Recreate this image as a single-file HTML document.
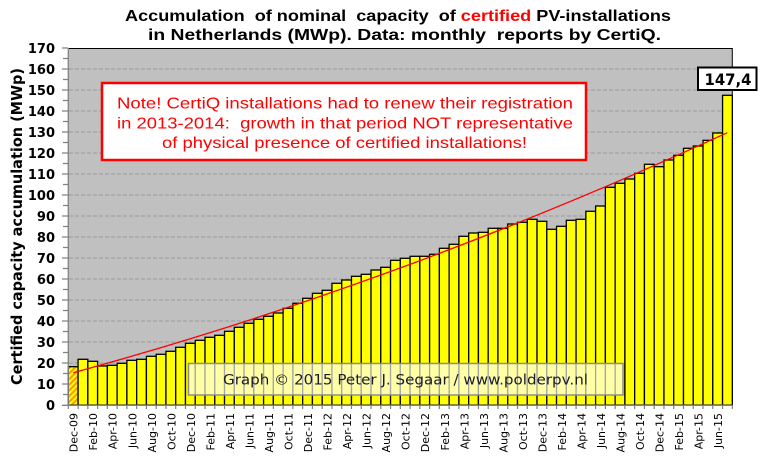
<!DOCTYPE html>
<html>
<head>
<meta charset="utf-8">
<style>
  html, body { margin: 0; padding: 0; background: #ffffff; }
  svg { display: block; }
</style>
</head>
<body>
<svg width="771" height="458" viewBox="0 0 771 458" xmlns="http://www.w3.org/2000/svg">
  <defs>
    <pattern id="hatch" width="4" height="4" patternUnits="userSpaceOnUse" patternTransform="rotate(45)">
      <rect width="4" height="4" fill="#FFFF00"/>
      <rect width="2" height="4" fill="#FF9900"/>
    </pattern>
  </defs>
  <rect width="771" height="458" fill="#ffffff"/>

  <!-- Title -->
  <g font-family="'Liberation Sans', 'DejaVu Sans', sans-serif" font-weight="bold" font-size="16" fill="#000">
    <text x="125" y="21" textLength="546" lengthAdjust="spacingAndGlyphs">Accumulation&#160; of nominal&#160; capacity&#160; of <tspan fill="#FF0000">certified</tspan> PV-installations</text>
    <text x="148" y="40" textLength="513" lengthAdjust="spacingAndGlyphs">in Netherlands (MWp). Data: monthly&#160; reports by CertiQ.</text>
  </g>

  <!-- Plot area -->
  <rect x="68.3" y="48" width="664" height="357" fill="#C0C0C0"/>

  <!-- Gridlines -->
  <g stroke="#9A9A9A" stroke-width="1" stroke-dasharray="4,2">
    <line x1="69" y1="384" x2="732" y2="384"/>
    <line x1="69" y1="363" x2="732" y2="363"/>
    <line x1="69" y1="342" x2="732" y2="342"/>
    <line x1="69" y1="321" x2="732" y2="321"/>
    <line x1="69" y1="300" x2="732" y2="300"/>
    <line x1="69" y1="279" x2="732" y2="279"/>
    <line x1="69" y1="258" x2="732" y2="258"/>
    <line x1="69" y1="237" x2="732" y2="237"/>
    <line x1="69" y1="216" x2="732" y2="216"/>
    <line x1="69" y1="195" x2="732" y2="195"/>
    <line x1="69" y1="174" x2="732" y2="174"/>
    <line x1="69" y1="153" x2="732" y2="153"/>
    <line x1="69" y1="132" x2="732" y2="132"/>
    <line x1="69" y1="111" x2="732" y2="111"/>
    <line x1="69" y1="90" x2="732" y2="90"/>
    <line x1="69" y1="69" x2="732" y2="69"/>
  </g>

  <!-- Plot border top/right -->
  <path d="M68.3,48.5 H732.3 V405" fill="none" stroke="#000" stroke-width="1"/>

  <!-- Bars -->
  <g stroke="#000" stroke-width="1.3">
    <rect x="68.30" y="366.7" width="9.77" height="38.3" fill="url(#hatch)"/>
  </g>
  <g fill="#FFFF00" stroke="#000" stroke-width="1.3">
    <rect x="78.07" y="359.3" width="9.77" height="45.7"/>
    <rect x="87.83" y="361.3" width="9.77" height="43.7"/>
    <rect x="97.60" y="366.0" width="9.77" height="39.0"/>
    <rect x="107.36" y="365.3" width="9.77" height="39.7"/>
    <rect x="117.13" y="363.3" width="9.77" height="41.7"/>
    <rect x="126.89" y="360.3" width="9.77" height="44.7"/>
    <rect x="136.66" y="359.3" width="9.77" height="45.7"/>
    <rect x="146.42" y="356.3" width="9.77" height="48.7"/>
    <rect x="156.19" y="354.3" width="9.77" height="50.7"/>
    <rect x="165.95" y="351.3" width="9.77" height="53.7"/>
    <rect x="175.72" y="347.3" width="9.77" height="57.7"/>
    <rect x="185.48" y="343.3" width="9.77" height="61.7"/>
    <rect x="195.25" y="340.3" width="9.77" height="64.7"/>
    <rect x="205.01" y="337.3" width="9.77" height="67.7"/>
    <rect x="214.78" y="335.3" width="9.77" height="69.7"/>
    <rect x="224.54" y="331.3" width="9.77" height="73.7"/>
    <rect x="234.31" y="327.3" width="9.77" height="77.7"/>
    <rect x="244.07" y="323.3" width="9.77" height="81.7"/>
    <rect x="253.84" y="319.3" width="9.77" height="85.7"/>
    <rect x="263.60" y="316.3" width="9.77" height="88.7"/>
    <rect x="273.37" y="313.0" width="9.77" height="92.0"/>
    <rect x="283.13" y="308.3" width="9.77" height="96.7"/>
    <rect x="292.90" y="303.3" width="9.77" height="101.7"/>
    <rect x="302.66" y="298.3" width="9.77" height="106.7"/>
    <rect x="312.43" y="293.3" width="9.77" height="111.7"/>
    <rect x="322.19" y="290.3" width="9.77" height="114.7"/>
    <rect x="331.96" y="283.3" width="9.77" height="121.7"/>
    <rect x="341.72" y="280.0" width="9.77" height="125.0"/>
    <rect x="351.49" y="276.3" width="9.77" height="128.7"/>
    <rect x="361.25" y="274.3" width="9.77" height="130.7"/>
    <rect x="371.02" y="270.0" width="9.77" height="135.0"/>
    <rect x="380.78" y="267.3" width="9.77" height="137.7"/>
    <rect x="390.55" y="260.3" width="9.77" height="144.7"/>
    <rect x="400.31" y="258.3" width="9.77" height="146.7"/>
    <rect x="410.08" y="256.3" width="9.77" height="148.7"/>
    <rect x="419.84" y="256.3" width="9.77" height="148.7"/>
    <rect x="429.61" y="254.3" width="9.77" height="150.7"/>
    <rect x="439.37" y="248.3" width="9.77" height="156.7"/>
    <rect x="449.14" y="244.3" width="9.77" height="160.7"/>
    <rect x="458.90" y="236.3" width="9.77" height="168.7"/>
    <rect x="468.67" y="233.0" width="9.77" height="172.0"/>
    <rect x="478.43" y="232.3" width="9.77" height="172.7"/>
    <rect x="488.20" y="228.3" width="9.77" height="176.7"/>
    <rect x="497.96" y="228.3" width="9.77" height="176.7"/>
    <rect x="507.73" y="224.0" width="9.77" height="181.0"/>
    <rect x="517.49" y="222.3" width="9.77" height="182.7"/>
    <rect x="527.26" y="219.3" width="9.77" height="185.7"/>
    <rect x="537.02" y="221.3" width="9.77" height="183.7"/>
    <rect x="546.79" y="229.3" width="9.77" height="175.7"/>
    <rect x="556.55" y="226.3" width="9.77" height="178.7"/>
    <rect x="566.32" y="220.3" width="9.77" height="184.7"/>
    <rect x="576.08" y="219.3" width="9.77" height="185.7"/>
    <rect x="585.85" y="211.3" width="9.77" height="193.7"/>
    <rect x="595.61" y="206.0" width="9.77" height="199.0"/>
    <rect x="605.38" y="187.3" width="9.77" height="217.7"/>
    <rect x="615.14" y="183.3" width="9.77" height="221.7"/>
    <rect x="624.91" y="179.0" width="9.77" height="226.0"/>
    <rect x="634.67" y="173.3" width="9.77" height="231.7"/>
    <rect x="644.44" y="164.3" width="9.77" height="240.7"/>
    <rect x="654.20" y="166.7" width="9.77" height="238.3"/>
    <rect x="663.97" y="160.0" width="9.77" height="245.0"/>
    <rect x="673.73" y="155.3" width="9.77" height="249.7"/>
    <rect x="683.50" y="148.3" width="9.77" height="256.7"/>
    <rect x="693.26" y="146.0" width="9.77" height="259.0"/>
    <rect x="703.03" y="140.3" width="9.77" height="264.7"/>
    <rect x="712.79" y="133.0" width="9.77" height="272.0"/>
    <rect x="722.56" y="95.3" width="9.77" height="309.7"/>
  </g>

  <!-- Trend line -->
  <path d="M73.3,372.7 Q400.3,283.2 727.3,132.7" fill="none" stroke="#FF0000" stroke-width="1.3"/>

  <!-- Axes -->
  <line x1="68.3" y1="48" x2="68.3" y2="405.5" stroke="#808080" stroke-width="1.3"/>
  <line x1="62" y1="405.3" x2="732.3" y2="405.3" stroke="#808080" stroke-width="1.3"/>

  <!-- Y ticks -->
  <g stroke="#808080" stroke-width="1.2">
    <path d="M62,48H68 M62,69H68 M62,90H68 M62,111H68 M62,132H68 M62,153H68 M62,174H68 M62,195H68 M62,216H68 M62,237H68 M62,258H68 M62,279H68 M62,300H68 M62,321H68 M62,342H68 M62,363H68 M62,384H68"/>
    <path d="M63,58.5H68 M63,79.5H68 M63,100.5H68 M63,121.5H68 M63,142.5H68 M63,163.5H68 M63,184.5H68 M63,205.5H68 M63,226.5H68 M63,247.5H68 M63,268.5H68 M63,289.5H68 M63,310.5H68 M63,331.5H68 M63,352.5H68 M63,373.5H68 M63,394.5H68"/>
  </g>

  <!-- X ticks -->
  <path stroke="#808080" stroke-width="1.2" d="M68.30,405V409 M78.07,405V409 M87.83,405V409 M97.60,405V409 M107.36,405V409 M117.13,405V409 M126.89,405V409 M136.66,405V409 M146.42,405V409 M156.19,405V409 M165.95,405V409 M175.72,405V409 M185.48,405V409 M195.25,405V409 M205.01,405V409 M214.78,405V409 M224.54,405V409 M234.31,405V409 M244.07,405V409 M253.84,405V409 M263.60,405V409 M273.37,405V409 M283.13,405V409 M292.90,405V409 M302.66,405V409 M312.43,405V409 M322.19,405V409 M331.96,405V409 M341.72,405V409 M351.49,405V409 M361.25,405V409 M371.02,405V409 M380.78,405V409 M390.55,405V409 M400.31,405V409 M410.08,405V409 M419.84,405V409 M429.61,405V409 M439.37,405V409 M449.14,405V409 M458.90,405V409 M468.67,405V409 M478.43,405V409 M488.20,405V409 M497.96,405V409 M507.73,405V409 M517.49,405V409 M527.26,405V409 M537.02,405V409 M546.79,405V409 M556.55,405V409 M566.32,405V409 M576.08,405V409 M585.85,405V409 M595.61,405V409 M605.38,405V409 M615.14,405V409 M624.91,405V409 M634.67,405V409 M644.44,405V409 M654.20,405V409 M663.97,405V409 M673.73,405V409 M683.50,405V409 M693.26,405V409 M703.03,405V409 M712.79,405V409 M722.56,405V409 M732.32,405V409"/>

  <!-- Y tick labels -->
  <g font-family="'DejaVu Sans', sans-serif" font-weight="bold" font-size="13" fill="#000" text-anchor="end">
    <text x="55" y="53">170</text>
    <text x="55" y="74">160</text>
    <text x="55" y="95">150</text>
    <text x="55" y="116">140</text>
    <text x="55" y="137">130</text>
    <text x="55" y="158">120</text>
    <text x="55" y="179">110</text>
    <text x="55" y="200">100</text>
    <text x="55" y="221">90</text>
    <text x="55" y="242">80</text>
    <text x="55" y="263">70</text>
    <text x="55" y="284">60</text>
    <text x="55" y="305">50</text>
    <text x="55" y="326">40</text>
    <text x="55" y="347">30</text>
    <text x="55" y="368">20</text>
    <text x="55" y="389">10</text>
    <text x="55" y="410">0</text>
  </g>

  <!-- Y axis title -->
  <text transform="translate(22,385) rotate(-90)" font-family="'DejaVu Sans', sans-serif" font-weight="bold" font-size="15" fill="#000" textLength="317" lengthAdjust="spacingAndGlyphs">Certified capacity accumulation (MWp)</text>

  <!-- X labels -->
  <g font-family="'DejaVu Sans', sans-serif" font-size="11" fill="#000" text-anchor="end">
    <text transform="translate(77.7,413) rotate(-90)">Dec-09</text>
    <text transform="translate(97.2,413) rotate(-90)">Feb-10</text>
    <text transform="translate(116.7,413) rotate(-90)">Apr-10</text>
    <text transform="translate(136.3,413) rotate(-90)">Jun-10</text>
    <text transform="translate(155.8,413) rotate(-90)">Aug-10</text>
    <text transform="translate(175.3,413) rotate(-90)">Oct-10</text>
    <text transform="translate(194.9,413) rotate(-90)">Dec-10</text>
    <text transform="translate(214.4,413) rotate(-90)">Feb-11</text>
    <text transform="translate(233.9,413) rotate(-90)">Apr-11</text>
    <text transform="translate(253.5,413) rotate(-90)">Jun-11</text>
    <text transform="translate(273.0,413) rotate(-90)">Aug-11</text>
    <text transform="translate(292.5,413) rotate(-90)">Oct-11</text>
    <text transform="translate(312.0,413) rotate(-90)">Dec-11</text>
    <text transform="translate(331.6,413) rotate(-90)">Feb-12</text>
    <text transform="translate(351.1,413) rotate(-90)">Apr-12</text>
    <text transform="translate(370.6,413) rotate(-90)">Jun-12</text>
    <text transform="translate(390.2,413) rotate(-90)">Aug-12</text>
    <text transform="translate(409.7,413) rotate(-90)">Oct-12</text>
    <text transform="translate(429.2,413) rotate(-90)">Dec-12</text>
    <text transform="translate(448.8,413) rotate(-90)">Feb-13</text>
    <text transform="translate(468.3,413) rotate(-90)">Apr-13</text>
    <text transform="translate(487.8,413) rotate(-90)">Jun-13</text>
    <text transform="translate(507.3,413) rotate(-90)">Aug-13</text>
    <text transform="translate(526.9,413) rotate(-90)">Oct-13</text>
    <text transform="translate(546.4,413) rotate(-90)">Dec-13</text>
    <text transform="translate(565.9,413) rotate(-90)">Feb-14</text>
    <text transform="translate(585.5,413) rotate(-90)">Apr-14</text>
    <text transform="translate(605.0,413) rotate(-90)">Jun-14</text>
    <text transform="translate(624.5,413) rotate(-90)">Aug-14</text>
    <text transform="translate(644.1,413) rotate(-90)">Oct-14</text>
    <text transform="translate(663.6,413) rotate(-90)">Dec-14</text>
    <text transform="translate(683.1,413) rotate(-90)">Feb-15</text>
    <text transform="translate(702.6,413) rotate(-90)">Apr-15</text>
    <text transform="translate(722.2,413) rotate(-90)">Jun-15</text>
  </g>

  <!-- Annotation box -->
  <rect x="102" y="83" width="484" height="77" fill="#ffffff" stroke="#FF0000" stroke-width="2.5"/>
  <g font-family="'Liberation Sans', 'DejaVu Sans', sans-serif" font-size="16" fill="#FF0000">
    <text x="117" y="108.5" textLength="456" lengthAdjust="spacingAndGlyphs">Note! CertiQ installations had to renew their registration</text>
    <text x="117" y="128.3" textLength="456" lengthAdjust="spacingAndGlyphs">in 2013-2014:&#160; growth in that period NOT representative</text>
    <text x="162" y="147.8" textLength="365" lengthAdjust="spacingAndGlyphs">of physical presence of certified installations!</text>
  </g>

  <!-- Credit box -->
  <rect x="188.5" y="363.5" width="434.5" height="31.5" fill="#ffffff" fill-opacity="0.65" stroke="#8C8C8C" stroke-width="1.5"/>
  <text x="223" y="384.5" font-family="'DejaVu Sans', sans-serif" font-size="14" fill="#1a1a2a" textLength="365" lengthAdjust="spacingAndGlyphs">Graph © 2015 Peter J. Segaar / www.polderpv.nl</text>

  <!-- Value label -->
  <rect x="698" y="67.5" width="58.5" height="22.5" fill="#ffffff" stroke="#000" stroke-width="2"/>
  <text x="704.5" y="85" font-family="'DejaVu Sans', sans-serif" font-weight="bold" font-size="16" fill="#000" textLength="47" lengthAdjust="spacingAndGlyphs">147,4</text>
</svg>
</body>
</html>
